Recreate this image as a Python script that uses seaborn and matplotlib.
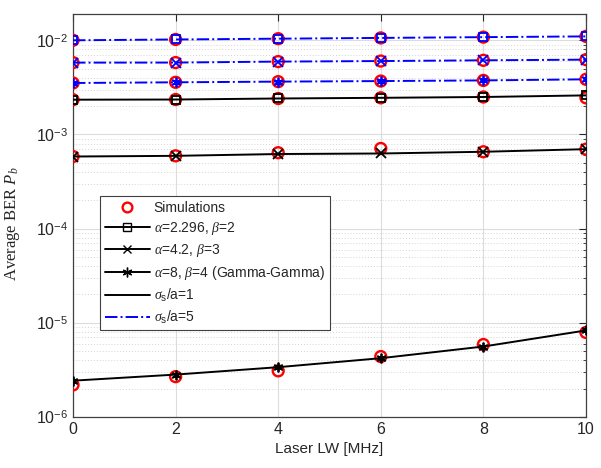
import numpy as np
import pandas as pd
import matplotlib
matplotlib.use('Agg')
import matplotlib.pyplot as plt
import seaborn as sns
from matplotlib.lines import Line2D
from matplotlib.ticker import LogLocator, FuncFormatter, NullFormatter

# Laser linewidth [MHz]
lw = [0, 2, 4, 6, 8, 10]

# analytical curves, sigma_s/a = 1 (black, solid)
s1_a2296 = [2.34e-3, 2.35e-3, 2.41e-3, 2.45e-3, 2.50e-3, 2.60e-3]
s1_a42 = [5.83e-4, 5.93e-4, 6.20e-4, 6.28e-4, 6.55e-4, 6.98e-4]
s1_a8 = [2.43e-6, 2.82e-6, 3.38e-6, 4.21e-6, 5.60e-6, 8.30e-6]

# analytical curves, sigma_s/a = 5 (blue, dash-dot)
s5_a2296 = [1.00e-2, 1.02e-2, 1.04e-2, 1.06e-2, 1.08e-2, 1.10e-2]
s5_a42 = [5.79e-3, 5.80e-3, 5.94e-3, 6.02e-3, 6.13e-3, 6.23e-3]
s5_a8 = [3.52e-3, 3.58e-3, 3.64e-3, 3.69e-3, 3.75e-3, 3.85e-3]

# simulations (red circles)
sim_s1_a2296 = [2.34e-3, 2.35e-3, 2.41e-3, 2.45e-3, 2.50e-3, 2.45e-3]
sim_s1_a42 = [5.83e-4, 5.93e-4, 6.40e-4, 7.10e-4, 6.55e-4, 6.98e-4]
sim_s1_a8 = [2.19e-6, 2.68e-6, 3.09e-6, 4.38e-6, 5.88e-6, 7.90e-6]
sim_s5_a2296 = [1.00e-2, 1.02e-2, 1.04e-2, 1.06e-2, 1.08e-2, 1.10e-2]
sim_s5_a42 = [5.79e-3, 5.80e-3, 5.94e-3, 6.02e-3, 6.13e-3, 6.23e-3]
sim_s5_a8 = [3.52e-3, 3.58e-3, 3.64e-3, 3.69e-3, 3.75e-3, 3.85e-3]

sns.set_theme(style='white')
plt.rcParams['font.family'] = ['Liberation Sans', 'DejaVu Sans']
plt.rcParams['mathtext.fontset'] = 'custom'
plt.rcParams['mathtext.rm'] = 'Liberation Sans'
plt.rcParams['mathtext.it'] = 'Liberation Serif:italic'
plt.rcParams['mathtext.sf'] = 'Liberation Sans'

ASTER = (6, 2, 0)  # line asterisk like the matlab '*'

fig = plt.figure(figsize=(6.01, 4.68), dpi=100)
ax = fig.add_axes([0.1215, 0.109, 0.8535, 0.861])

# simulations first, analytical markers on top
for ys in [sim_s1_a2296, sim_s1_a42, sim_s1_a8, sim_s5_a2296, sim_s5_a42, sim_s5_a8]:
    d = pd.DataFrame({'lw': lw, 'ber': ys})
    sns.scatterplot(data=d, x='lw', y='ber', ax=ax, marker='o', s=62,
                    facecolor='none', edgecolor='red', linewidth=1.7, zorder=3)

curves = [
    (s1_a2296, 'black', '-', 's'),
    (s1_a42, 'black', '-', 'x'),
    (s1_a8, 'black', '-', ASTER),
    (s5_a2296, 'blue', '-.', 's'),
    (s5_a42, 'blue', '-.', 'x'),
    (s5_a8, 'blue', '-.', ASTER),
]
for ys, c, ls, m in curves:
    d = pd.DataFrame({'lw': lw, 'ber': ys})
    sns.lineplot(data=d, x='lw', y='ber', ax=ax, color=c, linestyle=ls,
                 linewidth=1.4, marker=m, markersize=6 if m == 's' else 7,
                 markerfacecolor='none' if m == 's' else c,
                 markeredgecolor=c, markeredgewidth=1.3,
                 estimator=None, sort=False, zorder=4)

ax.set_yscale('log')
ax.set_xlim(0, 10)
ax.set_ylim(1e-6, 1.9e-2)
ax.set_xticks([0, 2, 4, 6, 8, 10])
ax.yaxis.set_major_locator(LogLocator(base=10, numticks=10))
ax.yaxis.set_minor_locator(LogLocator(base=10, subs=np.arange(2, 10), numticks=20))
ax.yaxis.set_major_formatter(FuncFormatter(lambda v, p: r'$10^{%d}$' % round(np.log10(v))))
ax.yaxis.set_minor_formatter(NullFormatter())

ax.grid(True, which='major', color='#dcdcdc', linewidth=0.8, linestyle='-')
ax.grid(True, which='minor', axis='y', color='#d4d4d4', linewidth=0.7, linestyle=(0, (1, 2)))
ax.set_axisbelow(True)

ax.tick_params(which='both', direction='in', top=True, right=True,
               colors='#262626', labelcolor='#262626', labelsize=11.5)
ax.tick_params(which='major', length=5, width=0.8)
ax.tick_params(which='minor', length=2.5, width=0.6)
for sp in ax.spines.values():
    sp.set_color('#404040')
    sp.set_linewidth(0.9)

ax.set_xlabel('Laser LW [MHz]', fontsize=11, color='#262626', labelpad=4)
ax.set_ylabel(r'Average BER $P_b$', fontsize=12, family=['Liberation Serif'],
              color='#262626', labelpad=6)
ax.yaxis.set_label_coords(-0.1, 0.48)

handles = [
    Line2D([], [], color='red', marker='o', linestyle='none', markersize=7,
           markerfacecolor='none', markeredgewidth=1.7),
    Line2D([], [], color='black', marker='s', markersize=6, markerfacecolor='none', linewidth=1.4),
    Line2D([], [], color='black', marker='x', markersize=6, linewidth=1.4),
    Line2D([], [], color='black', marker=ASTER, markersize=7, linewidth=1.4),
    Line2D([], [], color='black', linewidth=1.4),
    Line2D([], [], color='blue', linestyle='-.', linewidth=1.4),
]
labels = [
    'Simulations',
    r'$\alpha$=2.296, $\beta$=2',
    r'$\alpha$=4.2, $\beta$=3',
    r'$\alpha$=8, $\beta$=4 (Gamma-Gamma)',
    r'$\sigma_\mathrm{s}$/a=1',
    r'$\sigma_\mathrm{s}$/a=5',
]
leg = ax.legend(handles, labels, loc='upper left', bbox_to_anchor=(0.053, 0.548),
                fontsize=10, frameon=True, fancybox=False, framealpha=1,
                edgecolor='#404040', handlelength=3.2, handletextpad=0.3,
                borderpad=0.35, labelspacing=0.35, borderaxespad=0)
leg.get_frame().set_linewidth(0.8)

fig.savefig('out.png', dpi=100)
